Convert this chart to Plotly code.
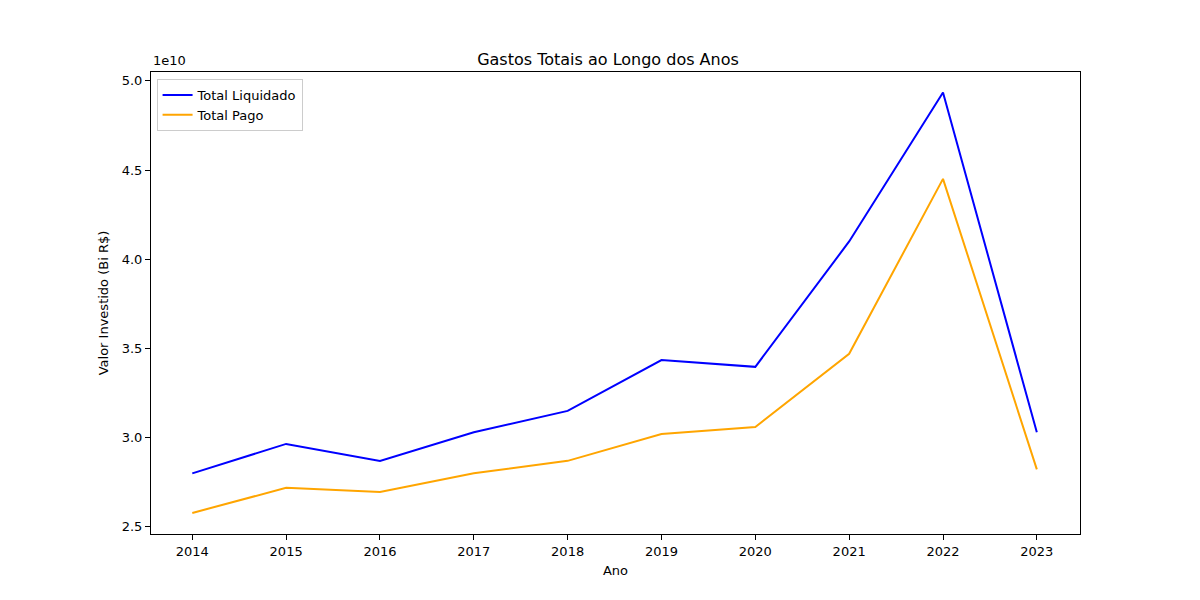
import plotly.graph_objects as go

anos = [2014, 2015, 2016, 2017, 2018, 2019, 2020, 2021, 2022, 2023]
# valores em unidades de 1e10 R$
total_liquidado = [2.80, 2.965, 2.87, 3.03, 3.15, 3.435, 3.397, 4.10, 4.935, 3.03]
total_pago = [2.578, 2.719, 2.696, 2.80, 2.87, 3.021, 3.06, 3.47, 4.451, 2.822]
y_ticks = [2.5, 3.0, 3.5, 4.0, 4.5, 5.0]

fig = go.Figure()
fig.add_trace(go.Scatter(x=anos, y=total_liquidado, mode="lines", name="Total Liquidado",
                         line=dict(color="blue", width=2)))
fig.add_trace(go.Scatter(x=anos, y=total_pago, mode="lines", name="Total Pago",
                         line=dict(color="orange", width=2)))

axis_style = dict(showgrid=False, zeroline=False, showline=True, linecolor="black",
                  linewidth=1, mirror=True, ticks="outside", ticklen=5,
                  tickcolor="black", tickfont=dict(size=13, color="black"))

fig.update_layout(
    width=1200, height=600,
    plot_bgcolor="white", paper_bgcolor="white",
    font=dict(family="DejaVu Sans", color="black"),
    margin=dict(l=143, r=128, t=64, b=74),
    title=dict(text="Gastos Totais ao Longo dos Anos", x=0.5, xanchor="center",
               y=0.905, yanchor="bottom", font=dict(size=16)),
    xaxis=dict(range=[2013.56, 2023.46], tickvals=anos,
               title=dict(text="Ano", font=dict(size=13), standoff=8), **axis_style),
    yaxis=dict(range=[2.46, 5.05], tickvals=y_ticks,
               ticktext=[f"{v:.1f}" for v in y_ticks],
               title=dict(text="Valor Investido (Bi R$)", font=dict(size=13), standoff=10),
               **axis_style),
    legend=dict(x=0.006, y=0.985, xanchor="left", yanchor="top",
                bgcolor="rgba(255,255,255,0.8)", bordercolor="#cccccc", borderwidth=1,
                font=dict(size=13)),
    annotations=[dict(text="1e10", xref="paper", yref="paper", x=0, y=1.005,
                      xanchor="left", yanchor="bottom", showarrow=False,
                      font=dict(size=13))],
)

fig.write_html("out.html")
